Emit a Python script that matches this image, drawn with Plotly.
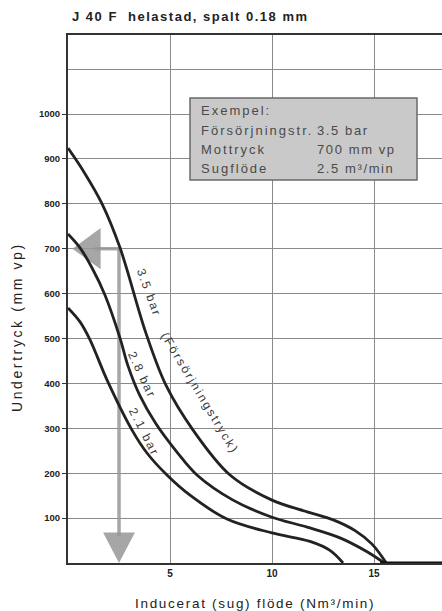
import plotly.graph_objects as go

# ---- data ----
x_35 = [0, 0.78, 1.67, 2.55, 3.82, 4.8, 6.13, 7.94, 10.0, 11.72, 13.0, 14.07, 14.9, 15.6]
y_35 = [924, 871, 800, 702, 512, 396, 296, 196, 140, 114, 96, 72, 42, 0]

x_28 = [0, 0.59, 1.18, 1.81, 2.55, 2.94, 3.53, 4.31, 5.34, 6.32, 8.09, 10.0, 11.72, 13.33, 14.66, 15.5]
y_28 = [733, 702, 657, 597, 501, 439, 372, 310, 247, 196, 140, 102, 80, 56, 25, 0]

x_21 = [0, 0.59, 1.08, 1.91, 3.14, 3.87, 4.85, 5.98, 7.79, 10.0, 11.86, 12.84, 13.48]
y_21 = [568, 537, 497, 408, 296, 245, 196, 151, 98, 67, 48, 28, 0]

zero_x = [15.3, 18.33]
zero_y = [0, 0]

example_flow = 2.5
example_pressure = 700

x_ticks = [5, 10, 15]
y_ticks = [100, 200, 300, 400, 500, 600, 700, 800, 900, 1000]

curve_color = '#222222'
arrow_color = 'rgba(150,150,150,0.85)'
text_color = '#3a3a3a'
font_main = 'Liberation Sans, Arial, sans-serif'


def spaced(txt, px):
    return f'<span style="letter-spacing:{px}px">{txt}</span>'


fig = go.Figure()

# example arrows (vertical down to the flow axis, horizontal left to the pressure axis), drawn beneath the curves
fig.add_trace(go.Scatter(x=[example_flow, example_flow], y=[example_pressure, 60], mode='lines',
                         line=dict(color=arrow_color, width=3.5), showlegend=False, hoverinfo='skip'))
fig.add_trace(go.Scatter(x=[example_flow - 0.78, example_flow + 0.78, example_flow, example_flow - 0.78],
                         y=[68, 68, 0, 68], mode='lines', fill='toself', fillcolor=arrow_color,
                         line=dict(color=arrow_color, width=0), showlegend=False, hoverinfo='skip'))
fig.add_trace(go.Scatter(x=[example_flow + 0.12, 1.3], y=[example_pressure, example_pressure], mode='lines',
                         line=dict(color=arrow_color, width=3.5), showlegend=False, hoverinfo='skip'))
fig.add_trace(go.Scatter(x=[1.6, 1.6, 0.22, 1.6],
                         y=[example_pressure + 46, example_pressure - 46, example_pressure, example_pressure + 46],
                         mode='lines', fill='toself', fillcolor=arrow_color,
                         line=dict(color=arrow_color, width=0), showlegend=False, hoverinfo='skip'))

for xs, ys in [(x_35, y_35), (x_28, y_28), (x_21, y_21)]:
    fig.add_trace(go.Scatter(x=xs, y=ys, mode='lines',
                             line=dict(color=curve_color, width=2.8, shape='spline', smoothing=1.0),
                             hoverinfo='skip', showlegend=False))
fig.add_trace(go.Scatter(x=zero_x, y=zero_y, mode='lines',
                         line=dict(color='#111', width=3.2), showlegend=False, hoverinfo='skip'))

annotations = []
# curve labels
for txt, xx, yy, ang, sp in [('3.5 bar', 3.95, 603, 70, 1.8), ('(Försörjningstryck)', 6.45, 378, 59, 2.1),
                             ('2.8 bar', 3.63, 419, 65, 1.8), ('2.1 bar', 3.73, 292, 63, 2.2)]:
    annotations.append(dict(x=xx, y=yy, xref='x', yref='y', text=spaced(txt, sp), showarrow=False,
                            textangle=ang, font=dict(family=font_main, size=12, color=text_color)))

# example box text
box_rows = [('Exempel:', ''), ('Försörjningstr.', '3.5 bar'), ('Mottryck', '700 mm vp'),
            ('Sugflöde', '2.5 m³/min')]
row_y = [111, 130, 149, 168]
for (lab, val), py in zip(box_rows, row_y):
    yp = (563 - py) / 528
    annotations.append(dict(x=(199 - 68) / 374, y=yp, xref='paper', yref='paper', text=spaced(lab, 2),
                            showarrow=False, xanchor='left', yanchor='middle',
                            font=dict(family=font_main, size=13, color='#4a4a4a')))
    if val:
        annotations.append(dict(x=(315 - 68) / 374, y=yp, xref='paper', yref='paper', text=spaced(val, 1.6),
                                showarrow=False, xanchor='left', yanchor='middle',
                                font=dict(family=font_main, size=13, color='#4a4a4a')))

# axis titles
annotations.append(dict(x=(255 - 68) / 374, y=-(603 - 563) / 528, xref='paper', yref='paper',
                        text=spaced('Inducerat (sug) flöde (Nm³/min)', 1.7), showarrow=False,
                        xanchor='center', yanchor='middle',
                        font=dict(family=font_main, size=13.5, color='#222')))
annotations.append(dict(x=-(68 - 17) / 374, y=(563 - 327) / 528, xref='paper', yref='paper',
                        text=spaced('Undertryck (mm vp)', 2.6), showarrow=False, textangle=-90,
                        xanchor='center', yanchor='middle',
                        font=dict(family=font_main, size=14, color='#222')))
# title
annotations.append(dict(x=(70 - 68) / 374, y=(563 - 17) / 528, xref='paper', yref='paper',
                        text=spaced('<b>J 40 F  helastad, spalt 0.18 mm</b>', 1.5), showarrow=False,
                        xanchor='left', yanchor='middle',
                        font=dict(family=font_main, size=13, color='#222')))

shapes = [dict(type='rect', xref='paper', yref='paper',
               x0=(190 - 68) / 374, x1=(417 - 68) / 374,
               y0=(563 - 180) / 528, y1=(563 - 98) / 528,
               fillcolor='#c9c9c9', line=dict(color='#6a6a6a', width=1.5), layer='above')]

fig.update_layout(
    width=442, height=611,
    margin=dict(l=68, r=0, t=35, b=48),
    paper_bgcolor='white', plot_bgcolor='white',
    annotations=annotations, shapes=shapes, showlegend=False,
    xaxis=dict(range=[0, 18.33], tickvals=x_ticks, ticktext=[str(v) for v in x_ticks],
               showgrid=True, gridcolor='#8a8a8a', gridwidth=1.2,
               showline=True, linecolor='#333', linewidth=2, mirror=True,
               ticks='', zeroline=False,
               tickfont=dict(family=font_main, size=10, color='#222', weight='bold')),
    yaxis=dict(range=[0, 1176], tickvals=y_ticks, ticktext=[str(v) for v in y_ticks],
               showgrid=True, gridcolor='#8a8a8a', gridwidth=1.2,
               minor=dict(dtick=100, tick0=0, showgrid=True, gridcolor='#8a8a8a', gridwidth=1.2, ticks=''),
               showline=True, linecolor='#333', linewidth=2, mirror=False,
               ticks='outside', ticklen=4, tickcolor='#333', zeroline=False,
               tickfont=dict(family=font_main, size=9.5, color='#222', weight='bold')),
)

fig.write_html('out.html')
